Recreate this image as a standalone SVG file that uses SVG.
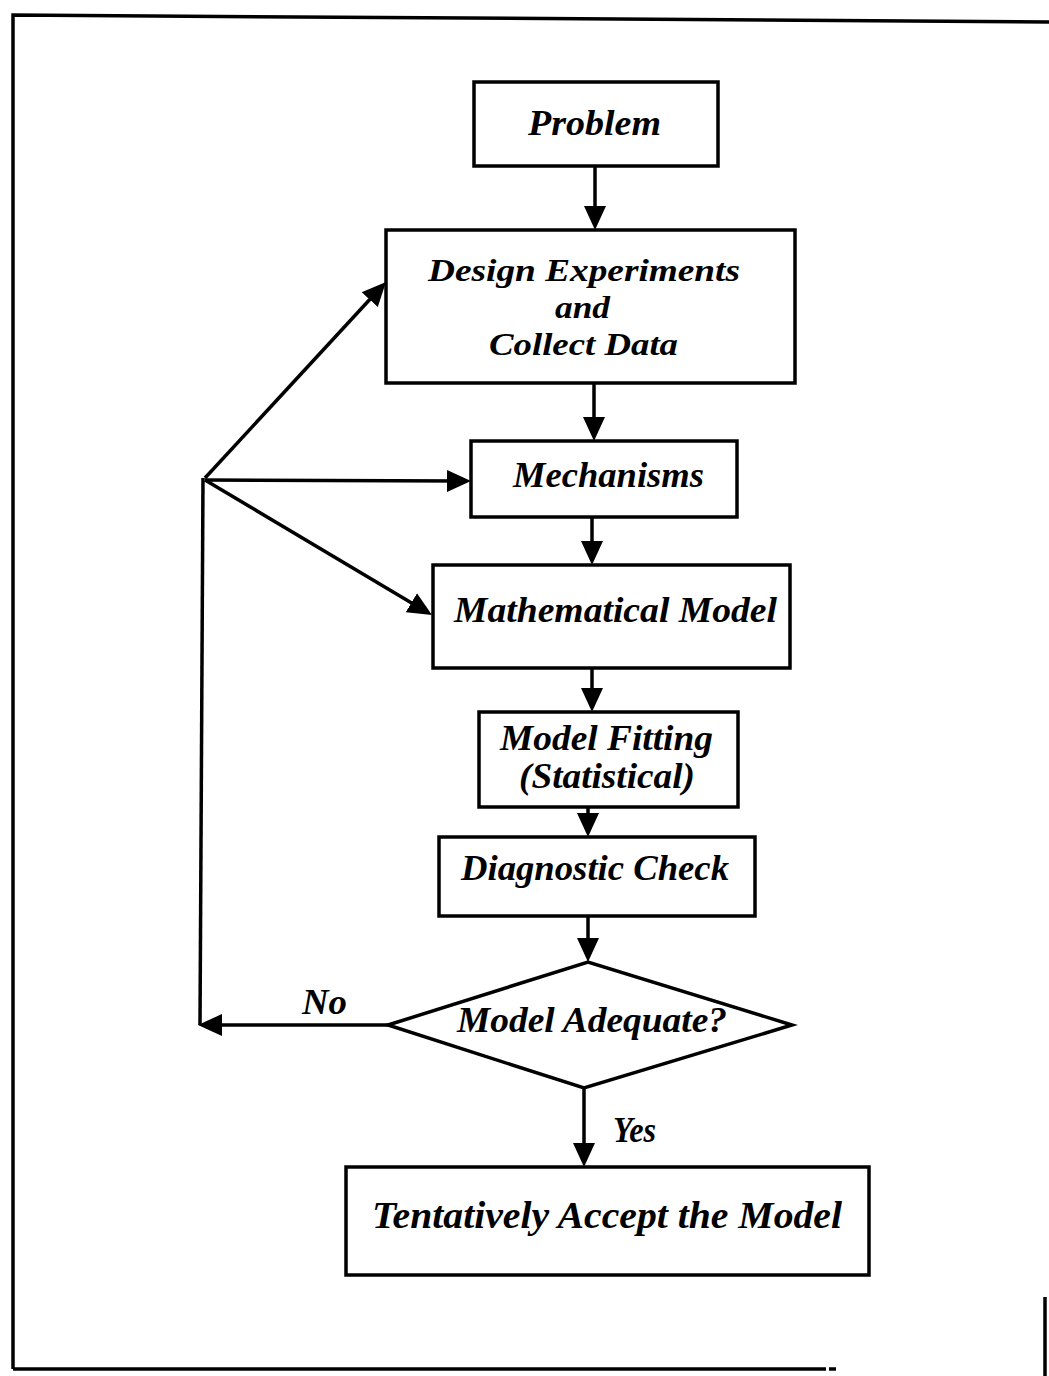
<svg xmlns="http://www.w3.org/2000/svg" width="1049" height="1376" viewBox="0 0 1049 1376">
<style>
.box{fill:#fff;stroke:#000;stroke-width:3.5}
.ln{fill:none;stroke:#000;stroke-width:3.5;marker-end:url(#ah)}
.pl{fill:none;stroke:#000;stroke-width:3.5}
text{font-family:"Liberation Serif","Times New Roman",serif;font-style:italic;font-weight:bold;font-size:36px;fill:#000;text-anchor:start}
.sm{font-size:31px}
</style>
<defs>
<marker id="ah" markerUnits="userSpaceOnUse" markerWidth="30" markerHeight="24" viewBox="0 -12 30 24" refX="14" refY="0" orient="auto">
<path d="M0,-11 L24,0 L0,11 Z" fill="#000"/>
</marker>
</defs>
<rect width="1049" height="1376" fill="#fff"/>
<g id="frame">
<path class="pl" d="M13,1369 L13,15 L1049,22"/>
<path class="pl" d="M13,1369 L826,1369"/>
<path class="pl" d="M829,1369 L836,1369"/>
<path class="pl" d="M1045,1297 L1045,1376"/>
</g>
<g id="connectors">
<line class="ln" x1="595" y1="166" x2="595" y2="220"/>
<line class="ln" x1="594" y1="383" x2="594" y2="431"/>
<line class="ln" x1="592" y1="517" x2="592" y2="555"/>
<line class="ln" x1="592" y1="668" x2="592" y2="702"/>
<line class="ln" x1="588" y1="807" x2="588" y2="827"/>
<line class="ln" x1="588" y1="916" x2="588" y2="952"/>
<line class="ln" x1="584" y1="1088" x2="584" y2="1157"/>
<line class="ln" x1="388" y1="1025" x2="208" y2="1025"/>
<path class="pl" d="M200,1025 L203,478"/>
<line class="ln" x1="205" y1="478" x2="379.2" y2="289.3"/>
<line class="ln" x1="205" y1="480" x2="461" y2="481"/>
<line class="ln" x1="205" y1="480" x2="423.4" y2="609.9"/>
<text x="302" y="1014" textLength="45" lengthAdjust="spacingAndGlyphs">No</text>
<text x="613" y="1142" textLength="43" lengthAdjust="spacingAndGlyphs">Yes</text>
</g>
<g id="problem">
<rect class="box" x="474" y="82" width="244" height="84"/>
<text x="528" y="135" textLength="133" lengthAdjust="spacingAndGlyphs">Problem</text>
</g>
<g id="design">
<rect class="box" x="386" y="230" width="409" height="153"/>
<text class="sm" x="428" y="281" textLength="312" lengthAdjust="spacingAndGlyphs">Design Experiments</text>
<text class="sm" x="555" y="318" textLength="55" lengthAdjust="spacingAndGlyphs">and</text>
<text class="sm" x="489" y="355" textLength="189" lengthAdjust="spacingAndGlyphs">Collect Data</text>
</g>
<g id="mechanisms">
<rect class="box" x="471" y="441" width="266" height="76"/>
<text x="513" y="487" textLength="191" lengthAdjust="spacingAndGlyphs">Mechanisms</text>
</g>
<g id="math">
<rect class="box" x="433" y="565" width="357" height="103"/>
<text x="454" y="622" textLength="323" lengthAdjust="spacingAndGlyphs">Mathematical Model</text>
</g>
<g id="fitting">
<rect class="box" x="479" y="712" width="259" height="95"/>
<text x="500" y="750" textLength="213" lengthAdjust="spacingAndGlyphs">Model Fitting</text>
<text x="519" y="788" textLength="176" lengthAdjust="spacingAndGlyphs">(Statistical)</text>
</g>
<g id="diagnostic">
<rect class="box" x="439" y="837" width="316" height="79"/>
<text x="461" y="880" textLength="268" lengthAdjust="spacingAndGlyphs">Diagnostic Check</text>
</g>
<g id="adequate">
<polygon class="box" points="388,1025 588,962 792,1025 584,1088"/>
<text x="457" y="1032" textLength="270" lengthAdjust="spacingAndGlyphs">Model Adequate?</text>
</g>
<g id="accept">
<rect class="box" x="346" y="1167" width="523" height="108"/>
<text x="372" y="1228" style="font-size:38px" textLength="470" lengthAdjust="spacingAndGlyphs">Tentatively Accept the Model</text>
</g>
</svg>
